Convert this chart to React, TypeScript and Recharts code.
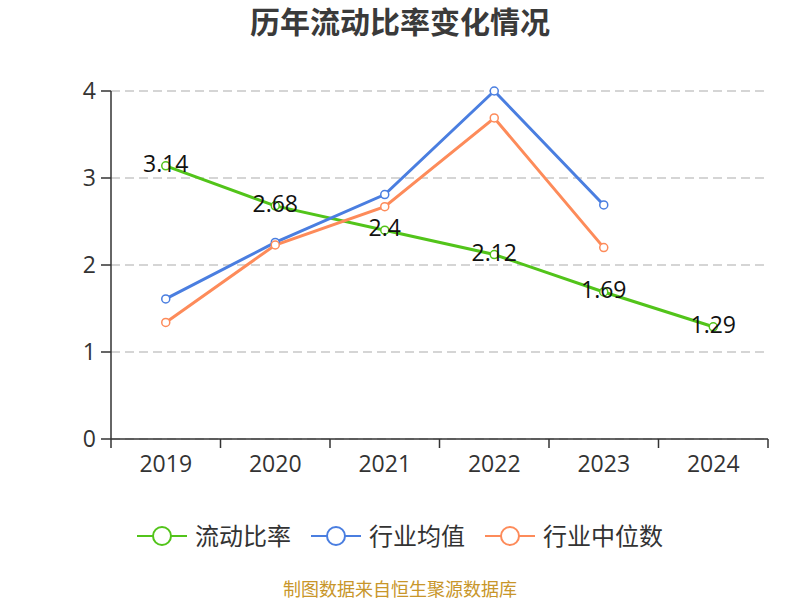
import { CartesianGrid, Legend, Line, LineChart, XAxis, YAxis } from "recharts";

const years = ["2019", "2020", "2021", "2022", "2023", "2024"];
const currentRatio = [3.14, 2.68, 2.4, 2.12, 1.69, 1.29];
const industryMean = [1.61, 2.26, 2.81, 4.0, 2.69, null];
const industryMedian = [1.34, 2.23, 2.67, 3.69, 2.2, null];
const yTicks = [0, 1, 2, 3, 4];

const GREEN = "#52c41a";
const BLUE = "#4a7ee0";
const ORANGE = "#fd8b5a";
const FONT = "'Open Sans', 'Noto Sans CJK SC', sans-serif";

const data = years.map((y, i) => ({
  year: y,
  ratio: currentRatio[i],
  mean: industryMean[i],
  median: industryMedian[i]
}));

const series = [
  { key: "ratio", name: "流动比率", color: GREEN },
  { key: "mean", name: "行业均值", color: BLUE },
  { key: "median", name: "行业中位数", color: ORANGE }
];

// category tick: label in the band centre, tick marks on the band edges
function YearTick(props: any) {
  const { x, y, payload, index, visibleTicksCount } = props;
  const half = payload.offset || 0;
  const last = index === visibleTicksCount - 1;
  return (
    <g>
      <line x1={x - half} y1={y} x2={x - half} y2={y + 9} stroke="#333" strokeWidth={1.5} />
      {last && <line x1={x + half} y1={y} x2={x + half} y2={y + 9} stroke="#333" strokeWidth={1.5} />}
      <text x={x} y={y + 33} textAnchor="middle" fontSize={23} fill="#333" fontFamily={FONT}>
        {payload.value}
      </text>
    </g>
  );
}

function ValueLabel(props: any) {
  const { x, y, value } = props;
  return (
    <text x={x} y={y + 6} textAnchor="middle" fontSize={23} fill="#111" fontFamily={FONT}>
      {value}
    </text>
  );
}

function LegendContent() {
  return (
    <div style={{ display: "flex", justifyContent: "center", alignItems: "center", fontFamily: FONT }}>
      {series.map((s) => (
        <div key={s.key} style={{ display: "flex", alignItems: "center", margin: "0 10px" }}>
          <svg width={50} height={24} style={{ marginRight: 8 }}>
            <line x1={0} y1={12} x2={50} y2={12} stroke={s.color} strokeWidth={2} />
            <circle cx={25} cy={12} r={9} fill="#fff" stroke={s.color} strokeWidth={2} />
          </svg>
          <span style={{ fontSize: 24, color: "#333", lineHeight: 1 }}>{s.name}</span>
        </div>
      ))}
    </div>
  );
}

export default function App() {
  return (
    <div style={{ position: "absolute", left: 0, top: 0, width: 800, height: 600, background: "#fff", overflow: "hidden" }}>
      <div
        style={{
          position: "absolute",
          top: 7,
          width: 800,
          textAlign: "center",
          fontSize: 30,
          lineHeight: 1,
          fontWeight: "bold",
          color: "#3a3a3a",
          fontFamily: FONT
        }}
      >
        历年流动比率变化情况
      </div>
      <LineChart width={800} height={600} data={data} margin={{ top: 91, right: 32, bottom: 130, left: 0 }}>
        <CartesianGrid vertical={false} stroke="#c8c8c8" strokeDasharray="9 5" strokeWidth={1.5} />
        <XAxis
          dataKey="year"
          scale="band"
          height={31}
          stroke="#333"
          strokeWidth={1.5}
          tickLine={false}
          tickSize={0}
          tickMargin={0}
          interval={0}
          tick={<YearTick />}
        />
        <YAxis
          domain={[0, 4]}
          ticks={yTicks}
          width={111}
          stroke="#333"
          strokeWidth={1.5}
          tickSize={10}
          tickMargin={5}
          tick={{ fontSize: 23, fill: "#333", fontFamily: FONT }}
        />
        <Legend
          verticalAlign="middle"
          align="center"
          layout="horizontal"
          wrapperStyle={{ top: 524, left: 0, width: 800 }}
          content={<LegendContent />}
        />
        {series.map((s) => (
          <Line
            key={s.key}
            dataKey={s.key}
            name={s.name}
            stroke={s.color}
            strokeWidth={3}
            dot={{ r: 4, fill: "#fff", stroke: s.color, strokeWidth: 1.5 }}
            activeDot={false}
            isAnimationActive={false}
            label={s.key === "ratio" ? <ValueLabel /> : false}
          />
        ))}
      </LineChart>
      <div
        style={{
          position: "absolute",
          top: 580,
          width: 800,
          textAlign: "center",
          fontSize: 18,
          lineHeight: 1,
          color: "#c8962a",
          fontFamily: FONT
        }}
      >
        制图数据来自恒生聚源数据库
      </div>
    </div>
  );
}
